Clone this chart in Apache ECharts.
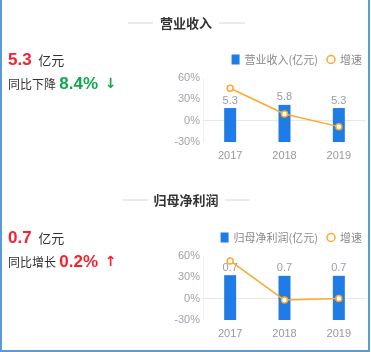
<!DOCTYPE html>
<html lang="zh-CN" style="height: 100%">
<head>
  <meta charset="utf-8">
</head>
<body style="height: 100%; margin: 0">
  <div id="container" style="position:absolute; left:0; top:0; width:371px; height:352px;"></div>
  <div style="position:absolute; left:0; top:0; width:370px; height:352px; box-sizing:border-box; border-left:2px solid #5b9bd5; border-right:2px solid #5b9bd5; border-bottom:2px solid #5b9bd5; pointer-events:none;"></div>

  <script type="text/javascript" src="https://fastly.jsdelivr.net/npm/echarts@6/dist/echarts.min.js"></script>
  <script type="text/javascript">
    var years = ['2017', '2018', '2019'];
    var revenue = [5.3, 5.8, 5.3];
    var revenueGrowth = [45.6, 9.4, -8.4];
    var profit = [0.70, 0.69, 0.69];
    var profitGrowth = [53, -2, 0.2];

    var FONT = '"Microsoft YaHei", "Noto Sans CJK SC", sans-serif';
    var BLUE = '#1f7be6';
    var ORANGE = '#fbaa2e';
    var RED = '#f5222d';
    var GREEN = '#12a84a';

    var dom = document.getElementById('container');
    var myChart = echarts.init(dom, null, { renderer: 'canvas' });

    function titleGroup(text, y, x1, x2, x3, x4) {
      return [
        { type: 'line', shape: { x1: x1, y1: y, x2: x2, y2: y }, style: { stroke: '#d6d6d6', lineWidth: 1 } },
        { type: 'line', shape: { x1: x3, y1: y, x2: x4, y2: y }, style: { stroke: '#d6d6d6', lineWidth: 1 } },
        { type: 'text', x: 186, y: y, style: { text: text, font: 'bold 13px ' + FONT, fill: '#333', align: 'center', verticalAlign: 'middle' } }
      ];
    }

    function summary(y, value, label, pct, color, arrow) {
      return [
        { type: 'text', x: 8, y: y, style: { text: '{v|' + value + '}  {u|亿元}', verticalAlign: 'middle',
          rich: { v: { font: 'bold 17px Arial, sans-serif', fill: RED }, u: { font: '13px ' + FONT, fill: '#333' } } } },
        { type: 'text', x: 8, y: y + 24, style: { text: '{l|' + label + '} {p|' + pct + '}  {a|' + arrow + '}', verticalAlign: 'middle',
          rich: { l: { font: '12px ' + FONT, fill: '#333' }, p: { font: 'bold 17px Arial, sans-serif', fill: color },
                  a: { font: 'bold 14px "DejaVu Sans", sans-serif', fill: color } } } }
      ];
    }

    function pctAxis(gridIndex) {
      return {
        type: 'value', gridIndex: gridIndex, min: -30, max: 60, interval: 30,
        axisLabel: { formatter: '{value}%', color: '#a0a3b0', fontSize: 11, margin: 3 },
        axisLine: { show: true, lineStyle: { color: '#f0f0f0' } },
        axisTick: { show: false },
        splitLine: { show: false }
      };
    }

    function barAxis(gridIndex, max) {
      return { type: 'value', gridIndex: gridIndex, min: 0, max: max, show: false, splitLine: { show: false } };
    }

    function catAxis(gridIndex) {
      return {
        type: 'category', gridIndex: gridIndex, data: years,
        axisLine: { lineStyle: { color: '#e8e8e8' } },
        axisTick: { show: false },
        axisLabel: { color: '#999', fontSize: 11, margin: 8 }
      };
    }

    function barSeries(name, data, xi, yi) {
      return {
        name: name, type: 'bar', xAxisIndex: xi, yAxisIndex: yi, data: data, barWidth: 12,
        itemStyle: { color: BLUE },
        label: { show: true, position: 'top', distance: 2, color: '#9a9cab', fontSize: 11,
          formatter: function (p) { return p.value.toFixed(1); } }
      };
    }

    function lineSeries(data, xi, yi) {
      return {
        name: '增速', type: 'line', xAxisIndex: xi, yAxisIndex: yi, data: data,
        symbol: 'circle', symbolSize: 6, z: 5,
        lineStyle: { color: ORANGE, width: 1.5 },
        itemStyle: { color: '#fff', borderColor: ORANGE, borderWidth: 1.5 }
      };
    }

    function legend(top, name) {
      return {
        top: top, right: 4, itemGap: 8, itemWidth: 8, itemHeight: 10,
        textStyle: { color: '#888', fontSize: 11, fontFamily: FONT },
        data: [
          { name: name, icon: 'rect', itemStyle: { color: BLUE } },
          { name: '增速', itemStyle: { color: '#fff', borderColor: ORANGE, borderWidth: 1.5 }, lineStyle: { color: ORANGE } }
        ]
      };
    }

    var option = {
      animation: false,
      legend: [legend(49, '营业收入(亿元)'), legend(227, '归母净利润(亿元)')],
      grid: [
        { left: 203, right: 5, top: 78, height: 64 },
        { left: 203, right: 5, top: 256, height: 64 }
      ],
      xAxis: [catAxis(0), catAxis(1)],
      yAxis: [pctAxis(0), barAxis(0, 10), pctAxis(1), barAxis(1, 1)],
      series: [
        barSeries('营业收入(亿元)', revenue, 0, 1),
        lineSeries(revenueGrowth, 0, 0),
        barSeries('归母净利润(亿元)', profit, 1, 3),
        lineSeries(profitGrowth, 1, 2)
      ],
      graphic: [].concat(
        titleGroup('营业收入', 23, 128, 153, 219, 245),
        titleGroup('归母净利润', 200, 123, 148, 225, 250),
        summary(60, revenue[2].toFixed(1), '同比下降', '8.4%', GREEN, '↓'),
        summary(238, '0.7', '同比增长', '0.2%', RED, '↑')
      )
    };

    myChart.setOption(option);
    window.addEventListener('resize', myChart.resize);
  </script>
</body>
</html>
